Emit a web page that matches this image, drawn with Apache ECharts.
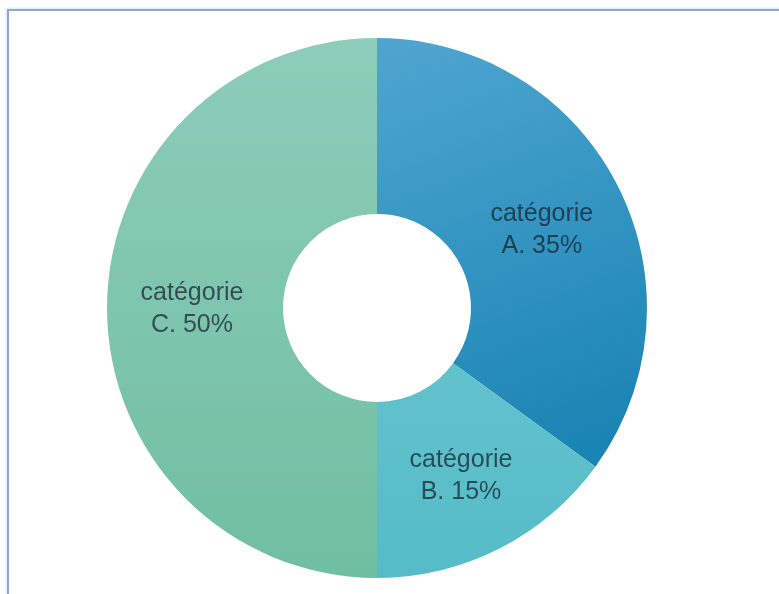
<!DOCTYPE html>
<html>
<head>
<meta charset="utf-8">
<script src="https://cdn.jsdelivr.net/npm/echarts@6/dist/echarts.min.js"></script>
<style>
html,body{margin:0;padding:0;background:#fff;}
#frame{position:absolute;left:7px;top:9px;width:800px;height:620px;border-left:2px solid #8fa8c8;border-top:2px solid #8fa8c8;box-shadow:-1px -1px 2px #d8e8f8;}
#main{position:absolute;left:0;top:0;width:779px;height:594px;}
</style>
</head>
<body>
<div id="frame"></div>
<div id="main"></div>
<script>
var categories = ['catégorie\nA. 35%', 'catégorie\nB. 15%', 'catégorie\nC. 50%'];
var values = [35, 15, 50];

var colors = [
  new echarts.graphic.LinearGradient(0, 0, 0.6, 1, [{offset:0,color:'#4fa6d0'},{offset:1,color:'#1a84b4'}]),
  new echarts.graphic.LinearGradient(0, 0, 0, 1, [{offset:0,color:'#62c2cd'},{offset:1,color:'#55bcc7'}]),
  new echarts.graphic.LinearGradient(0, 0, 0, 1, [{offset:0,color:'#8dcdb9'},{offset:1,color:'#70bea2'}])
];
var labelOffsets = [[0, 6], [0, 3], [0, 1]];

var chart = echarts.init(document.getElementById('main'));
chart.setOption({
  backgroundColor: 'transparent',
  animation: false,
  series: [{
    type: 'pie',
    center: [377, 308],
    radius: [94, 270],
    startAngle: 90,
    clockwise: true,
    data: categories.map(function (c, i) {
      return { name: c, value: values[i], itemStyle: { color: colors[i] }, label: { offset: labelOffsets[i] } };
    }),
    label: {
      show: true,
      position: 'inside',
      formatter: '{b}',
      color: 'rgba(20,30,45,0.72)',
      fontFamily: 'Liberation Sans, Arial, sans-serif',
      fontSize: 25,
      lineHeight: 32
    },
    labelLine: { show: false },
    itemStyle: { borderWidth: 0 },
    emphasis: { disabled: true }
  }]
});
</script>
</body>
</html>
